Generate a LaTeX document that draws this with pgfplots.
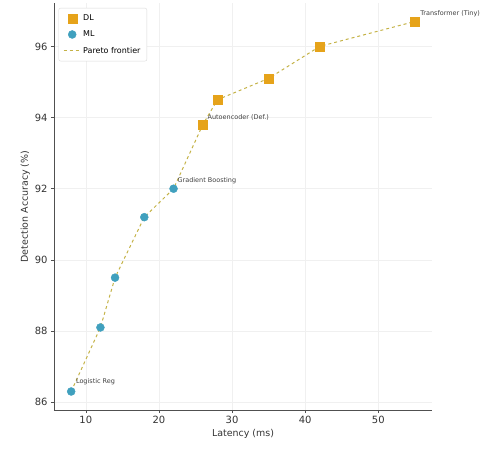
\documentclass[border=0pt]{standalone}
\usepackage{pgfplots}
\pgfplotsset{compat=1.18}
\usepackage{fontspec}
\setmainfont{DejaVu Sans}
\definecolor{dlc}{RGB}{230,163,26}
\definecolor{mlc}{RGB}{64,160,190}
\definecolor{frc}{RGB}{196,178,70}
\definecolor{axc}{RGB}{80,80,80}
\pgfplotsset{shortline/.style={legend image code/.code={\draw[##1] (0cm,0cm) -- (0.6cm,0cm);}}}
\begin{document}
\begin{tikzpicture}
\begin{axis}[
  scale only axis,
  width=378bp, height=407bp,
  xmin=5.65, xmax=57.35,
  ymin=85.78, ymax=97.22,
  xtick={10,20,30,40,50},
  ytick={86,88,90,92,94,96},
  axis x line*=bottom, axis y line*=left,
  axis line style={axc, line width=1pt},
  tick style={axc, line width=0.6pt},
  tick align=outside, major tick length=3bp,
  grid=major,
  grid style={gray!12, line width=0.5pt},
  ticklabel style={font=\fontsize{10}{11}\selectfont, text=black!80},
  /pgf/number format/assume math mode=true,
  xlabel={Latency (ms)},
  ylabel={Detection Accuracy (\%)},
  label style={font=\fontsize{9.5}{11}\selectfont, text=black!80},
  xlabel style={yshift=2bp},
  ylabel style={yshift=-2bp},
  clip=false,
  legend cell align=left,
  legend style={at={(0.012,0.988)}, anchor=north west, draw=gray!30, rounded corners=2pt,
    font=\fontsize{8}{9.5}\selectfont, row sep=5pt, inner sep=4.5pt},
]
\addplot[only marks, mark=square*, mark size=4.5bp, draw=dlc, fill=dlc] coordinates {
  (26,93.8) (28,94.5) (35,95.1) (42,96.0) (55,96.7)
};
\addlegendentry{DL}
\addplot[only marks, mark=*, mark size=4bp, draw=mlc, fill=mlc] coordinates {
  (8,86.3) (12,88.1) (14,89.5) (18,91.2) (22,92.0)
};
\addlegendentry{ML}
\addplot[frc, dashed, line width=1pt, shortline] coordinates {
  (8,86.3) (12,88.1) (14,89.5) (18,91.2) (22,92.0) (26,93.8) (28,94.5) (35,95.1) (42,96.0) (55,96.7)
};
\addlegendentry{Pareto frontier}
\node[anchor=south west, font=\fontsize{6.5}{7}\selectfont, text=black!75, inner sep=1pt] at (axis cs:8.5,86.45) {Logistic Reg};
\node[anchor=south west, font=\fontsize{6.5}{7}\selectfont, text=black!75, inner sep=1pt] at (axis cs:22.4,92.1) {Gradient Boosting};
\node[anchor=south west, font=\fontsize{6.5}{7}\selectfont, text=black!75, inner sep=1pt] at (axis cs:26.5,93.9) {Autoencoder (Def.)};
\node[anchor=south west, font=\fontsize{6.5}{7}\selectfont, text=black!75, inner sep=1pt] at (axis cs:55.6,96.8) {Transformer (Tiny)};
\coordinate (SW) at (rel axis cs:0,0);
\coordinate (NE) at (rel axis cs:1,1);
\end{axis}
\pgfresetboundingbox
\path[use as bounding box] ([xshift=-54bp,yshift=-44bp]SW) rectangle ([xshift=65bp,yshift=3bp]NE);
\end{tikzpicture}
\end{document}
